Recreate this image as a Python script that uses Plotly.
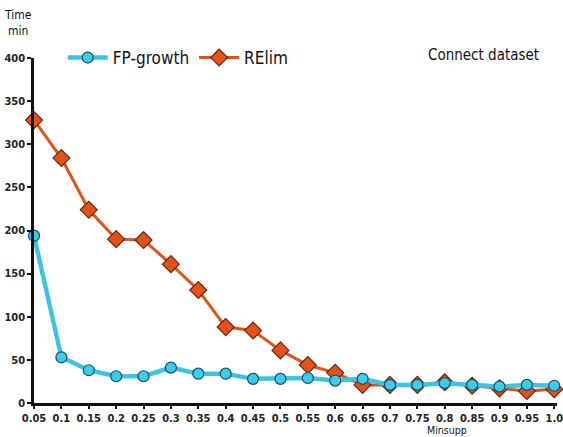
import plotly.graph_objects as go

minsupp = [0.05, 0.1, 0.15, 0.2, 0.25, 0.3, 0.35, 0.4, 0.45, 0.5,
           0.55, 0.6, 0.65, 0.7, 0.75, 0.8, 0.85, 0.9, 0.95, 1.0]
tick_labels = ["0.05", "0.1", "0.15", "0.2", "0.25", "0.3", "0.35", "0.4", "0.45", "0.5",
               "0.55", "0.6", "0.65", "0.7", "0.75", "0.8", "0.85", "0.9", "0.95", "1.0"]
fp_growth = [194, 53, 38, 31, 31, 41, 34, 34, 28, 28,
             29, 26, 28, 21, 21, 23, 21, 19, 21, 20]
relim = [328, 284, 224, 190, 189, 161, 131, 88, 84, 61,
         44, 35, 21, 21, 21, 24, 20, 17, 14, 16]
y_ticks = [0, 50, 100, 150, 200, 250, 300, 350, 400]

FONT = "DejaVu Sans Condensed, Liberation Sans Narrow, sans-serif"

fig = go.Figure()
fig.add_trace(go.Scatter(
    x=minsupp, y=relim, name="RElim", mode="lines+markers",
    line=dict(color="#D9561C", width=3),
    marker=dict(symbol="diamond", size=13, color="#E8501A",
                line=dict(color="#5a2a10", width=1.2)),
    cliponaxis=False,
))
fig.add_trace(go.Scatter(
    x=minsupp, y=fp_growth, name="FP-growth", mode="lines+markers",
    line=dict(color="#3EC3E3", width=4.5),
    marker=dict(symbol="circle", size=11, color="#3CCDEE",
                line=dict(color="#1d4a5a", width=1.2)),
    cliponaxis=False,
))

fig.update_layout(
    width=563, height=437,
    margin=dict(l=34, r=6, t=58, b=34, autoexpand=False),
    paper_bgcolor="white", plot_bgcolor="white",
    showlegend=True,
    legend=dict(orientation="h", x=0.055, y=1.0, xanchor="left", yanchor="middle",
                traceorder="reversed",
                font=dict(family=FONT, size=17, color="#111"),
                bgcolor="rgba(0,0,0,0)", itemwidth=40),
    font=dict(family=FONT, color="#222"),
)

fig.update_xaxes(
    range=[0.05, 1.005], tickvals=minsupp, ticktext=tick_labels,
    showline=True, linecolor="#111", linewidth=2.5,
    ticks="outside", ticklen=3, tickwidth=1.5, tickcolor="#111",
    showgrid=False, zeroline=False, ticklabeloverflow="allow",
    tickfont=dict(family=FONT, size=11, color="#222", weight="bold"),
)
fig.update_yaxes(
    range=[0, 400], tickvals=y_ticks,
    showline=True, linecolor="#111", linewidth=2.5,
    ticks="outside", ticklen=4, tickwidth=1.5, tickcolor="#111",
    showgrid=False, zeroline=False, ticklabeloverflow="allow",
    tickfont=dict(family=FONT, size=11, color="#222", weight="bold"),
)

fig.add_annotation(text="Time<br>min", xref="paper", yref="paper",
                   x=-0.03, y=1.1, xanchor="center", yanchor="middle",
                   showarrow=False, align="center",
                   font=dict(family=FONT, size=12, color="#111"))
fig.add_annotation(text="Connect dataset", xref="paper", yref="paper",
                   x=0.97, y=1.01, xanchor="right", yanchor="middle",
                   showarrow=False,
                   font=dict(family=FONT, size=15, color="#111"))
fig.add_annotation(text="Minsupp", xref="paper", yref="paper",
                   x=0.79, y=-0.098, xanchor="center", yanchor="bottom",
                   showarrow=False, borderpad=0,
                   font=dict(family=FONT, size=10.5, color="#111"))

fig.write_html("out.html", config={"displayModeBar": False},
               post_script="document.body.style.margin='0';document.body.style.padding='0';")
